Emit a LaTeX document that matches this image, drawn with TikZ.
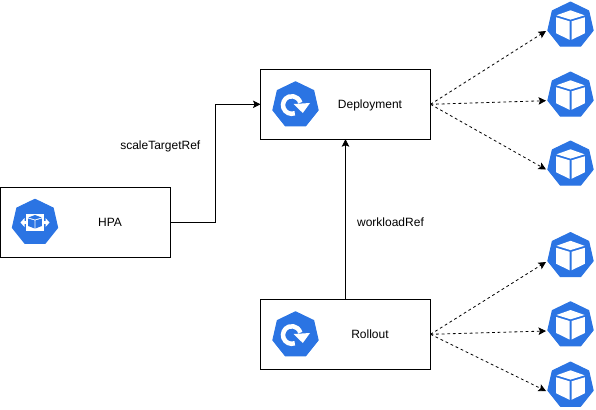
\documentclass[tikz,border=0pt]{standalone}
\usepackage{fontspec}
\setmainfont{Liberation Sans}
\usetikzlibrary{arrows.meta,shapes.geometric,calc}
\definecolor{kblue}{HTML}{2B74E3}
\tikzset{
 x=1pt,y=-1pt,
 box/.style={draw=black,line width=0.9pt,minimum width=170pt,minimum height=69.8pt,inner sep=0pt,outer sep=0pt},
 lbl/.style={font=\fontsize{12}{14}\selectfont,text=black,inner sep=0pt},
 hept/.style={regular polygon,regular polygon sides=7,fill=kblue,draw=kblue,line join=round,line width=1pt,minimum size=46.5pt,inner sep=0pt,outer sep=0pt},
 link/.style={draw=black,line width=0.8pt,-{Stealth[length=7.5pt,width=7.5pt,inset=1.5pt]}},
 dlink/.style={link,dash pattern=on 2.8pt off 2.8pt},
 podface/.style={fill=white,draw=none},
}
\newcommand{\podicon}[2]{%
 \node[hept] (#1) at (#2) {};
 \begin{scope}[shift={(#2)}]
  \fill[podface] (-14,-10) -- (0,-15) -- (14,-10) -- (0,-5.7) -- cycle;
  \fill[podface] (-14.3,-8) -- (-1,-4) -- (-1,14.5) -- (-14.3,8) -- cycle;
  \fill[podface] (14.3,-8) -- (1,-4) -- (1,14.5) -- (14.3,8) -- cycle;
 \end{scope}}
\newcommand{\deployicon}[2]{%
 \node[hept] (#1) at (#2) {};
 \begin{scope}[shift={(#2)}]
  \draw[white,line width=4.5pt] (-0.7,8.27) arc[start angle=70,end angle=345,radius=8.8];
  \fill[white] (14.5,-2) -- (-2,-1) -- (7.3,8) -- cycle;
 \end{scope}}
\newcommand{\hpaicon}[2]{%
 \node[hept] (#1) at (#2) {};
 \begin{scope}[shift={(#2)}]
  \fill[white] (-9,-9) rectangle (9,8.5);
  \fill[white] (-14.5,0) -- (-10.5,-4.5) -- (-10.5,-1.3) -- (-9,-1.3) -- (-9,1.3) -- (-10.5,1.3) -- (-10.5,4.5) -- cycle;
  \fill[white] (14.5,0) -- (10.5,-4.5) -- (10.5,-1.3) -- (9,-1.3) -- (9,1.3) -- (10.5,1.3) -- (10.5,4.5) -- cycle;
  \fill[kblue] (-6.6,-5) -- (0,-7.5) -- (6.6,-5) -- (0,-3) -- cycle;
  \fill[kblue] (-6.8,-4) -- (-0.4,-2) -- (-0.4,6) -- (-6.8,3.5) -- cycle;
  \fill[kblue] (6.8,-4) -- (0.4,-2) -- (0.4,6) -- (6.8,3.5) -- cycle;
 \end{scope}}
\begin{document}
\begin{tikzpicture}
\useasboundingbox (0,0) rectangle (596,409);
\node[box] (hpa) at (85.5,222.4) {};
\node[box] (dep) at (345.5,104.3) {};
\node[box] (rol) at (345.5,334.3) {};
\hpaicon{hpai}{35,222.5}
\deployicon{depi}{295.5,105}
\deployicon{roli}{295.5,335}
\node[lbl] (hpat) at (110,222) {HPA};
\node[lbl] (dept) at (370,105) {Deployment};
\node[lbl] (rolt) at (370,334) {Rollout};
\podicon{p1}{570.5,25.3}
\podicon{p2}{570.5,95.3}
\podicon{p3}{570.5,164.3}
\podicon{p4}{570.5,255.8}
\podicon{p5}{570.5,325}
\podicon{p6}{570.5,385.3}
\coordinate (e1) at (546,31);
\coordinate (e2) at (546,100.7);
\coordinate (e3) at (546,169.5);
\coordinate (e4) at (546,262);
\coordinate (e5) at (546,331);
\coordinate (e6) at (546,391);
\foreach \e in {e1,e2,e3}{\draw[dlink] (dep.east) -- (\e);}
\foreach \e in {e4,e5,e6}{\draw[dlink] (rol.east) -- (\e);}
\draw[link] (hpa.east) -- ++(45,0) |- (dep.west);
\draw[link] (rol.north) -- (dep.south);
\node[lbl] (l1) at (160.3,146) {scaleTargetRef};
\node[lbl] (l2) at (390.5,222) {workloadRef};
\end{tikzpicture}
\end{document}
